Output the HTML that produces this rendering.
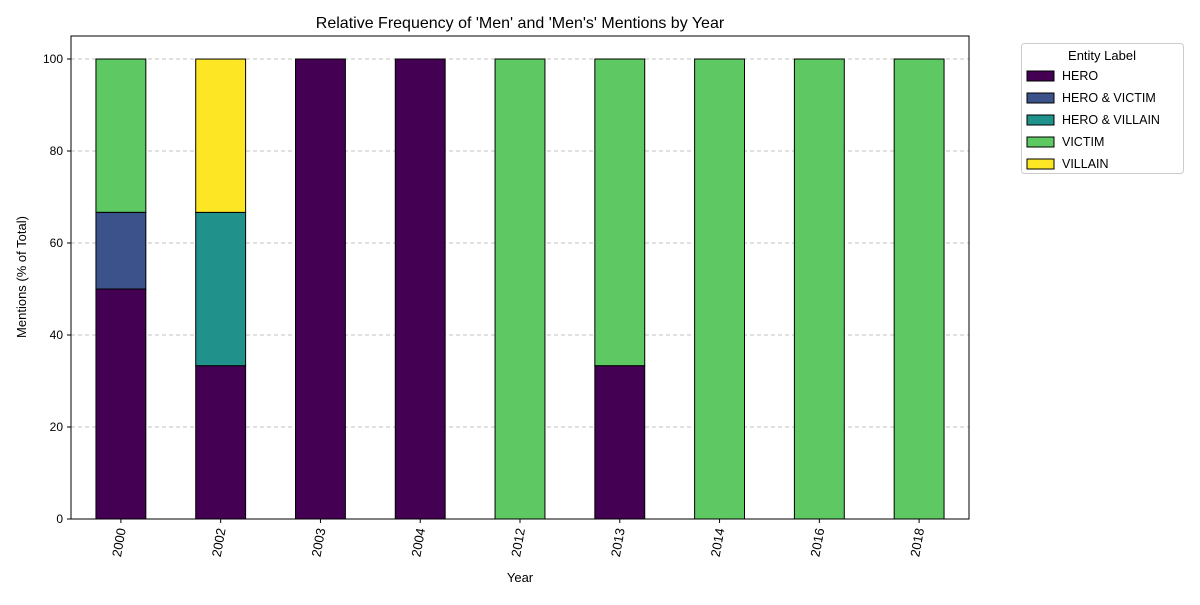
<!DOCTYPE html>
<html><head><meta charset="utf-8"><style>body{margin:0;background:#fff}svg{font-family:"Liberation Sans","DejaVu Sans",sans-serif}</style></head>
<body>
<svg id="chart" width="1200" height="600">
<rect width="1200" height="600" fill="#fff"/>
<text x="520" y="28" text-anchor="middle" font-size="16">Relative Frequency of 'Men' and 'Men's' Mentions by Year</text>
<g id="grid"></g><g id="bars"></g><g id="axes"></g>
<text x="520" y="582" text-anchor="middle" font-size="13">Year</text>
<text transform="translate(26,277) rotate(-90)" text-anchor="middle" font-size="13">Mentions (% of Total)</text>
<g id="legend"></g>
</svg>
<script>
const years=["2000","2002","2003","2004","2012","2013","2014","2016","2018"];
const seriesNames=["HERO","HERO & VICTIM","HERO & VILLAIN","VICTIM","VILLAIN"];
const hero=[50,33.33,100,100,0,33.33,0,0,0];
const heroVictim=[16.67,0,0,0,0,0,0,0,0];
const heroVillain=[0,33.33,0,0,0,0,0,0,0];
const victim=[33.33,0,0,0,100,66.67,100,100,100];
const villain=[0,33.33,0,0,0,0,0,0,0];
const yTicks=[0,20,40,60,80,100];
const colors=["#440154","#3b528b","#21918c","#5ec962","#fde725"];
const series=[hero,heroVictim,heroVillain,victim,villain];
const NS="http://www.w3.org/2000/svg";
const L=71,R=969,T=36,B=519,yMax=105;
const y=v=>B-(v/yMax)*(B-T);
const step=(R-L)/years.length;
const xc=i=>L+step*(i+0.5);
const bw=step*0.5;
function mk(tag,attrs,parent){const e=document.createElementNS(NS,tag);for(const k in attrs)e.setAttribute(k,attrs[k]);parent.appendChild(e);return e;}
const grid=document.getElementById('grid'),bars=document.getElementById('bars'),axes=document.getElementById('axes'),leg=document.getElementById('legend');
yTicks.forEach(t=>{
 if(t>0){const g=mk('line',{x1:L,x2:R,y1:y(t),y2:y(t),stroke:'#b0b0b0','stroke-dasharray':'4,3','stroke-width':0.8},grid);
 
 }
 mk('line',{x1:L-4,x2:L,y1:y(t),y2:y(t),stroke:'#000'},axes);
 const tx=mk('text',{x:L-8,y:y(t)+4,'text-anchor':'end','font-size':12},axes);tx.textContent=t;
 
 
});
years.forEach((yr,i)=>{
 let acc=0;
 series.forEach((s,k)=>{
  const v=s[i];if(v<=0)return;
  const r=mk('rect',{x:xc(i)-bw/2,y:y(acc+v),width:bw,height:y(acc)-y(acc+v),fill:colors[k],stroke:'#000','stroke-width':1},bars);
  
  
  acc+=v;
 });
 mk('line',{x1:xc(i),x2:xc(i),y1:B,y2:B+4,stroke:'#000'},axes);
 const tx=mk('text',{transform:`translate(${xc(i)+5},${B+10}) rotate(-80)`,'text-anchor':'end','font-size':13},axes);tx.textContent=yr;
 
 
});
mk('rect',{x:L,y:T,width:R-L,height:B-T,fill:'none',stroke:'#000','stroke-width':1},axes);
mk('rect',{x:1021.5,y:43.5,width:162,height:130,fill:'#fff',stroke:'#ccc',rx:3},leg);
const lt=mk('text',{x:1102,y:60,'text-anchor':'middle','font-size':13},leg);lt.textContent='Entity Label';
seriesNames.forEach((n,k)=>{
 const yy=76+k*22;
 const g=mk('g',{},leg);
 
 
 mk('rect',{x:1027,y:yy-5,width:27,height:10,fill:colors[k],stroke:'#000'},g);
 const t=mk('text',{x:1062,y:yy+4,'font-size':12.5},g);t.textContent=n;
});
</script>
</body></html>
